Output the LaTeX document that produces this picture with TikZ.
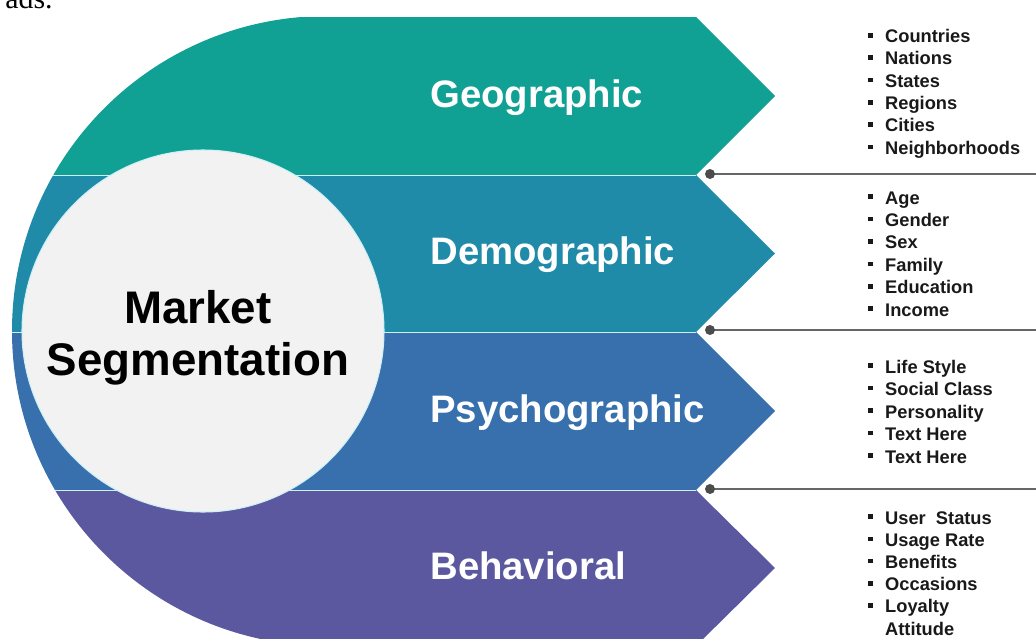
\documentclass[tikz,border=0pt]{standalone}
\usepackage{fontspec}
\setmainfont{Liberation Sans}
\newfontfamily\serifface{Liberation Serif}
\usepackage{xcolor}
\usepackage{tikz}
\usetikzlibrary{positioning}
\tikzset{>=latex}

\definecolor{geocol}{RGB}{16,161,148}
\definecolor{democol}{RGB}{31,139,168}
\definecolor{psycol}{RGB}{55,112,173}
\definecolor{behcol}{RGB}{91,88,160}
\definecolor{seamcol}{RGB}{205,240,245}

\newcommand{\sqbullet}{\makebox[9.6pt][l]{\rule[2.9pt]{2.6pt}{2.6pt}}}

\begin{document}
\begin{tikzpicture}[x=0.02cm, y=-0.02cm]
\tikzset{bandlabel/.style={text=white, font=\fontsize{21.8}{25}\selectfont\bfseries, anchor=base west, inner sep=0pt}}
\tikzset{item/.style={text=black!90, font=\fontsize{10.4}{12.5}\selectfont\bfseries, anchor=base west, inner sep=0pt}}
\tikzset{seam/.style={draw=seamcol, line width=0.5pt}}
\tikzset{sepline/.style={draw=black!60, line width=0.7pt}}
    \useasboundingbox (0,0) rectangle (1036,639);

    \coordinate (O) at (327,331);

    \coordinate (N0) at (696,17);
    \coordinate (N1) at (696,175);
    \coordinate (N2) at (696,332);
    \coordinate (N3) at (696,490);
    \coordinate (N4) at (696,646);

    \coordinate (T1) at (775,96);
    \coordinate (T2) at (775,253.5);
    \coordinate (T3) at (775,411);
    \coordinate (T4) at (775,568);

    % four bands, each cut out of the big disc plus its arrow
    \begin{scope}
    \clip (0,17) rectangle (800,175);
    \fill[geocol] (O) circle (315);
    \fill[geocol] (327,17) -- (N0) -- (T1) -- (N1) -- (327,175) -- cycle;
    \end{scope}
    \begin{scope}
    \clip (0,175) rectangle (800,332);
    \fill[democol] (O) circle (315);
    \fill[democol] (327,175) -- (N1) -- (T2) -- (N2) -- (327,332) -- cycle;
    \end{scope}
    \begin{scope}
    \clip (0,332) rectangle (800,490);
    \fill[psycol] (O) circle (315);
    \fill[psycol] (327,332) -- (N2) -- (T3) -- (N3) -- (327,490) -- cycle;
    \end{scope}
    \begin{scope}
    \clip (0,490) rectangle (800,646);
    \fill[behcol] (O) circle (315);
    \fill[behcol] (327,490) -- (N3) -- (T4) -- (N4) -- (327,646) -- cycle;
    \end{scope}

    \draw[seam] (53,175) -- (N1);
    \draw[seam] (12,332) -- (N2);
    \draw[seam] (55,490) -- (N3);

    % centre disc
    \filldraw[fill=black!5, draw=seamcol, line width=0.6pt] (203,331) circle (181);
    \node[font=\fontsize{26}{30}\selectfont\bfseries, anchor=base, inner sep=0pt] (mkt) at (198,323) {Market};
    \node[font=\fontsize{26}{30}\selectfont\bfseries, anchor=base, inner sep=0pt] (seg) at (198,375) {Segmentation};

    \node[bandlabel] (geo) at (430,107) {Geographic};
    \node[bandlabel] (demo) at (430,264.5) {Demographic};
    \node[bandlabel] (psy) at (430,422) {Psychographic};
    \node[bandlabel] (beh) at (430,579) {Behavioral};

    % separators
    \coordinate (D1) at (710,174);
    \coordinate (D2) at (710,330);
    \coordinate (D3) at (710,489);
    \coordinate (E1) at (1036,174);
    \coordinate (E2) at (1036,330);
    \coordinate (E3) at (1036,489);
    \draw[sepline] (D1) -- (E1);
    \draw[sepline] (D2) -- (E2);
    \draw[sepline] (D3) -- (E3);
    \fill[black!70] (D1) circle (5);
    \fill[black!70] (D2) circle (5);
    \fill[black!70] (D3) circle (5);

    % bullet lists
    \foreach \t [count=\i from 0] in {Countries,Nations,States,Regions,Cities,Neighborhoods}
        \node[item] (geo\i) at (868,42.7+22.3*\i) {\sqbullet\t};
    \foreach \t [count=\i from 0] in {Age,Gender,Sex,Family,Education,Income}
        \node[item] (demo\i) at (868,204+22.4*\i) {\sqbullet\t};
    \foreach \t [count=\i from 0] in {Life Style,Social Class,Personality,Text Here,Text Here}
        \node[item] (psy\i) at (868,373+22.5*\i) {\sqbullet\t};
    \foreach \t [count=\i from 0] in {User\ \ Status,Usage Rate,Benefits,Occasions,Loyalty}
        \node[item] (beh\i) at (868,524+22.2*\i) {\sqbullet\t};
    \node[item] (beh5) at (868,635) {\phantom{\sqbullet}Attitude};

    \node[font=\serifface\fontsize{17}{20}\selectfont, anchor=base west, inner sep=0pt] (ads) at (5,8.3) {ads.};
\end{tikzpicture}
\end{document}
